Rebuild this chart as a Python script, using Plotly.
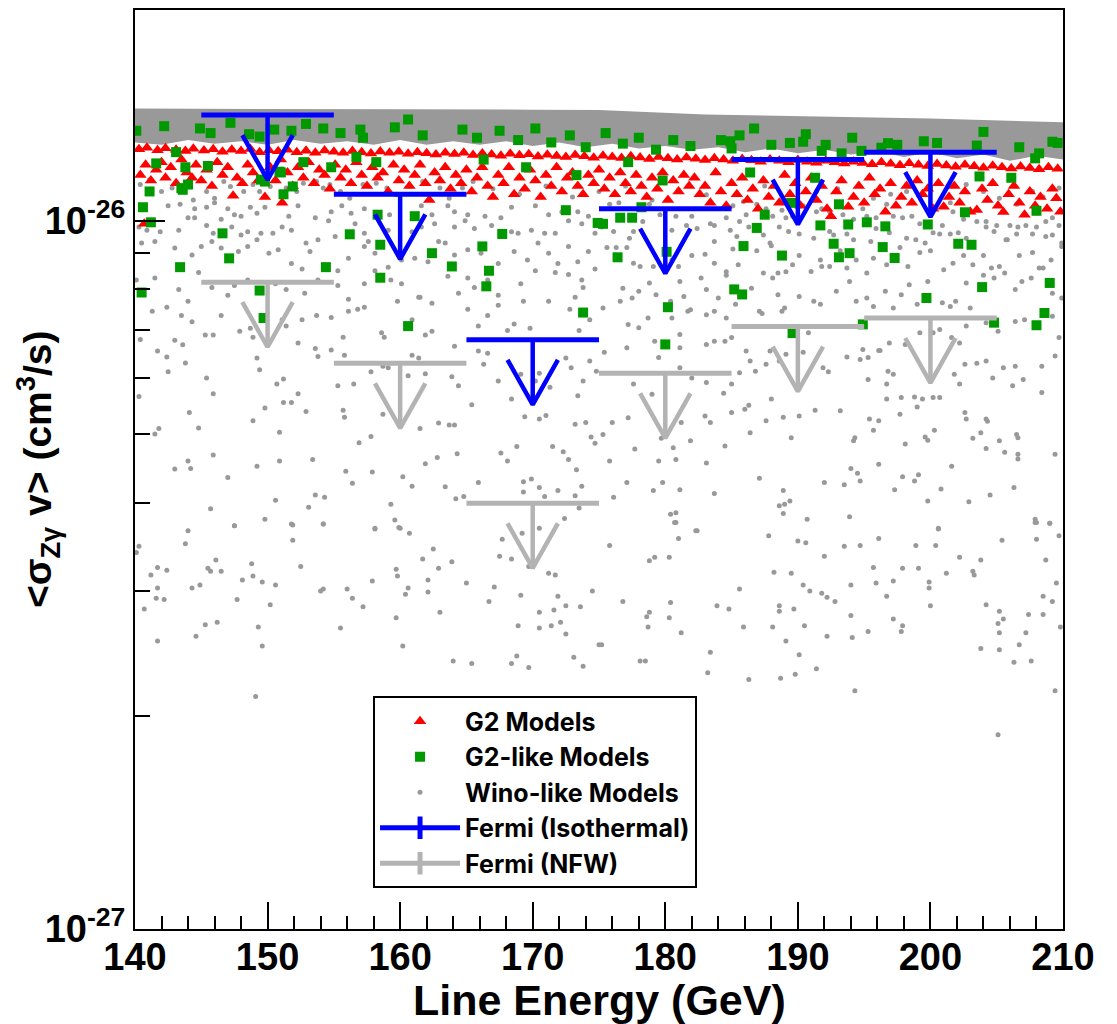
import plotly.graph_objects as go

UNIT = 1e-27  # all cross-section values below are in units of 1e-27 cm^3/s

# ---------------- Fermi-LAT upper limits (10 GeV bins) ----------------
fermi_centers = [150, 160, 170, 180, 190, 200]
fermi_halfwidth = 5
fermi_iso = [14.1, 10.9, 6.79, 10.4, 12.2, 12.5]
fermi_nfw = [8.19, 6.29, 3.99, 6.09, 7.09, 7.29]

# ---------------- dense Wino-like envelope (top edge / ragged bottom edge) ----------------
band_top_x = [140, 150, 160, 170, 175, 183, 190, 200, 210]
band_top_v = [14.4, 14.4, 14.37, 14.35, 14.33, 14.13, 14.05, 13.95, 13.77]
band_bot_x = [210, 208, 206, 204, 202, 200, 198, 196, 194, 192, 190, 188, 186, 184, 182, 180,
              178, 176, 174, 172, 170, 168, 166, 164, 162, 160, 158, 156, 154, 152, 150, 148,
              146, 144, 142, 140]
band_bot_v = [12.2, 12.35, 12.15, 12.4, 12.25, 12.5, 12.3, 12.55, 12.4, 12.6, 12.45, 12.65, 12.5,
              12.7, 12.6, 12.75, 12.65, 12.85, 12.7, 12.9, 12.75, 12.95, 12.8, 12.95, 12.8, 13.0,
              12.8, 12.95, 12.85, 13.0, 12.8, 12.95, 12.85, 13.0, 12.8, 12.9]

# ---------------- Wino-like models (x = line energy GeV, v) ----------------
wino_upper_left = [
    (140.4, 11.25), (141.1, 11.43), (142.0, 11.0), (142.8, 11.12), (143.6, 11.0), (144.4, 10.7),
    (145.4, 11.0), (146.0, 10.76), (146.7, 11.36), (147.2, 11.18), (148.2, 11.0), (148.9, 11.25),
    (149.4, 11.0), (150.2, 11.18), (151.4, 11.12), (152.2, 11.0), (152.7, 11.3), (153.7, 11.36),
    (154.2, 11.12), (154.7, 11.25), (155.5, 11.0), (156.2, 10.76), (157.2, 11.25), (158.2, 11.3),
    (159.0, 11.12), (159.7, 10.88), (160.7, 11.18), (161.7, 11.36), (163.0, 11.12), (163.7, 10.76),
    (164.7, 11.12), (165.5, 11.36),
    (142.5, 10.5), (143.4, 10.55), (144.5, 10.4), (145.4, 10.45), (146.0, 10.6), (147.0, 10.4),
    (147.5, 10.2), (148.0, 10.15), (148.7, 10.45), (149.2, 10.25), (149.8, 10.45), (151.6, 10.15),
    (152.3, 10.5), (153.6, 10.1), (154.8, 10.3), (155.6, 10.5), (156.3, 10.25), (157.3, 10.4),
    (159.2, 10.2), (161.6, 10.5), (162.4, 10.2), (163.6, 10.5), (164.1, 10.3), (165.1, 10.2),
    (166.4, 10.15), (167.6, 10.1), (168.4, 10.45), (170.2, 10.5), (171.2, 10.2), (172.2, 10.3),
    (173.4, 10.3), (174.2, 10.15),
    (140.3, 9.8), (140.9, 9.7), (141.9, 9.65), (143.3, 9.7), (144.0, 10.1), (144.5, 10.1),
    (145.4, 9.85), (145.9, 9.6), (146.5, 10.05), (147.3, 9.8), (148.0, 9.55), (148.5, 9.65),
    (149.5, 9.6), (150.4, 9.6), (151.1, 9.8), (151.8, 9.7), (152.9, 9.3), (153.8, 9.4),
    (154.6, 10.0), (155.1, 9.5), (156.6, 9.9), (157.3, 9.6), (157.6, 9.35), (159.1, 9.7),
    (160.9, 9.65), (161.6, 9.8), (162.6, 9.9), (162.9, 9.35), (164.1, 9.8), (164.9, 10.0),
    (165.6, 9.75), (166.9, 9.85), (168.4, 9.65), (168.9, 9.6), (169.9, 9.7), (170.9, 9.6),
    (171.7, 9.6), (172.7, 10.0), (173.7, 9.9), (174.7, 9.6),
    (140.5, 9.3), (141.5, 9.35), (143.0, 9.15), (144.3, 8.95), (145.0, 9.2), (145.8, 9.35),
    (146.5, 9.15), (147.8, 9.05), (148.5, 9.2), (149.2, 9.4), (150.1, 9.0), (150.8, 9.1),
    (151.8, 8.7), (152.6, 8.55), (153.2, 9.05), (155.3, 8.5), (156.1, 8.85), (157.3, 9.2),
    (158.1, 9.0), (159.1, 8.6), (160.1, 8.8), (161.1, 8.85), (162.1, 8.75), (163.4, 9.3),
    (164.1, 8.95), (165.1, 9.1), (166.1, 9.0), (167.4, 8.7), (168.6, 9.05), (169.6, 8.8),
    (170.4, 9.3), (171.2, 9.0), (171.9, 8.7), (172.7, 9.2), (173.4, 8.75), (174.2, 9.05),
]

wino_mid_left = [
    (140.1, 8.25), (141.5, 8.3), (143.3, 8.0), (144.0, 7.7), (144.8, 8.45), (145.8, 8.05),
    (147.0, 7.85), (147.5, 8.1), (148.5, 8.25), (150.6, 8.15), (151.4, 8.0), (152.8, 7.9),
    (153.8, 8.25), (155.3, 8.1), (156.1, 7.75), (157.3, 8.15), (158.1, 8.5), (159.3, 8.25),
    (160.1, 8.15), (161.4, 7.8), (162.4, 7.65), (163.6, 8.35), (164.4, 7.9), (165.1, 8.3),
    (165.6, 8.05), (166.6, 8.25), (167.4, 7.85), (169.1, 8.15), (170.2, 8.5), (171.7, 8.45),
    (172.7, 8.4), (173.7, 8.25), (174.7, 8.55), (173.2, 7.8), (173.8, 8.05),
    (141.3, 7.45), (142.4, 7.55), (143.5, 7.35), (144.3, 7.2), (145.3, 6.9), (145.9, 6.9),
    (146.5, 7.35), (147.9, 6.98), (148.7, 7.05), (148.9, 6.85), (151.1, 7.25), (151.4, 7.1),
    (152.6, 7.25), (153.7, 7.35), (154.8, 7.3), (155.7, 6.85), (156.1, 7.45), (156.8, 7.5),
    (157.3, 7.55), (158.6, 6.95), (158.8, 6.85), (159.8, 7.7), (160.9, 7.25), (161.5, 7.8),
    (161.9, 6.9), (162.4, 6.98), (164.1, 6.65), (165.1, 7.5), (165.9, 7.1), (166.6, 7.35),
    (167.4, 7.6), (168.1, 7.0), (168.6, 7.15), (169.3, 7.7), (169.8, 7.05), (171.2, 7.7),
    (172.8, 7.5), (174.3, 7.25), (173.5, 7.0),
    (140.4, 6.8), (141.7, 6.55), (142.4, 6.42), (143.0, 6.78), (143.6, 6.68), (143.8, 6.3),
    (142.5, 6.12), (145.4, 6.0), (145.9, 5.7), (149.2, 6.4), (149.4, 6.16), (150.7, 5.88),
    (151.2, 5.98), (152.3, 6.72), (153.6, 6.6), (153.8, 6.43), (154.8, 6.57), (155.3, 5.85),
    (155.8, 6.46), (156.5, 5.88), (157.8, 6.12), (158.7, 6.23), (159.1, 6.2), (160.6, 6.04),
    (160.9, 6.46), (161.4, 6.4), (161.9, 6.08), (163.9, 6.02), (164.4, 5.85), (165.4, 5.5),
    (165.9, 6.55), (166.3, 6.27), (166.6, 6.5), (167.4, 5.94), (168.4, 5.6), (169.1, 6.07),
    (170.2, 5.94), (170.5, 6.09), (171.3, 5.82), (172.5, 6.4), (172.9, 6.2), (173.8, 5.94),
    (174.3, 6.34), (174.8, 6.13), (173.4, 5.66),
    (140.3, 5.65), (144.1, 5.36), (144.8, 5.1), (148.9, 5.22), (149.8, 5.44), (150.9, 5.03),
    (151.2, 5.54), (151.8, 5.54), (152.3, 5.7), (152.9, 5.38), (155.7, 5.4), (155.8, 5.28),
    (156.9, 4.86), (157.8, 4.96), (158.7, 5.33), (161.5, 5.09), (162.9, 5.18), (163.7, 5.15),
    (164.1, 5.15), (169.4, 5.29), (170.5, 5.25), (171.0, 5.31), (173.2, 5.16), (174.0, 5.19),
    (141.5, 5.0), (141.8, 5.09),
    (143.0, 4.46), (144.0, 4.58), (144.2, 4.47), (145.9, 4.67), (147.0, 4.34), (149.2, 4.5),
    (150.9, 4.58), (153.4, 4.6), (155.9, 4.43), (156.4, 4.26), (157.9, 4.42), (160.2, 4.35),
    (160.9, 4.22), (161.9, 4.54), (162.8, 4.63), (163.4, 4.21), (164.3, 4.69), (164.8, 4.08),
    (165.9, 4.27), (167.6, 4.7), (168.1, 4.58), (168.8, 4.8), (169.3, 4.28), (169.9, 4.32),
    (169.3, 4.14), (170.5, 4.2), (170.9, 4.08), (171.5, 4.8), (171.9, 4.16), (172.3, 4.72),
    (172.7, 4.6), (173.3, 4.45), (173.7, 4.22), (173.2, 4.09), (173.5, 3.93), (145.7, 3.92),
    (147.5, 3.71), (149.8, 3.79), (150.6, 4.03), (151.8, 3.73), (153.1, 3.94), (153.6, 4.1),
    (154.3, 4.07), (154.2, 3.73), (158.1, 3.67), (159.3, 3.98), (159.6, 3.78), (160.0, 3.68),
    (164.2, 4.05), (172.4, 3.8), (174.4, 4.95), (174.7, 4.85),
]

wino_upper_right = [
    (167.0, 11.1), (169.0, 10.9), (171.0, 11.2), (173.0, 10.8), (175.0, 11.0), (177.0, 11.2),
    (179.0, 10.7), (181.0, 11.05), (183.1, 10.88), (185.9, 10.65), (187.5, 11.2), (189.0, 10.7),
    (191.4, 11.0), (193.0, 11.1), (195.7, 10.76), (197.0, 10.9), (198.2, 11.0), (200.0, 11.15),
    (201.5, 10.6), (202.7, 11.25), (204.0, 11.0), (205.2, 10.76), (206.5, 10.55), (207.7, 11.0),
    (208.5, 10.8), (209.7, 11.12),
    (175.8, 10.55), (176.5, 10.6), (178.8, 10.55), (179.6, 10.2), (180.8, 10.15), (182.0, 10.15),
    (183.4, 9.9), (183.7, 9.85), (184.6, 10.1), (185.1, 10.5), (185.6, 9.98), (186.1, 10.2),
    (186.9, 10.55), (187.6, 10.4), (188.1, 10.15), (188.8, 10.35), (189.1, 10.1), (189.6, 10.15),
    (190.4, 10.5), (191.4, 10.3), (191.8, 10.4), (192.4, 10.3), (193.4, 10.2), (194.2, 10.05),
    (194.9, 10.4), (195.2, 10.15), (195.9, 10.1), (196.7, 10.55), (197.2, 10.15), (197.9, 10.1),
    (198.6, 10.15), (199.2, 9.9), (200.9, 9.85), (201.7, 10.3), (202.5, 10.05), (203.5, 9.98),
    (204.2, 9.98), (205.0, 9.85), (206.0, 9.85), (206.6, 9.8), (207.2, 9.85), (208.0, 9.8),
    (208.7, 9.98), (209.2, 10.1), (209.7, 9.85),
    (175.2, 9.8), (176.1, 9.66), (177.3, 9.45), (177.6, 9.66), (178.3, 9.98), (180.5, 9.7),
    (181.6, 9.85), (182.4, 9.75), (183.7, 9.35), (184.9, 9.7), (185.4, 9.5), (186.3, 9.8),
    (187.4, 9.55), (187.9, 9.3), (188.6, 9.8), (189.3, 9.66), (190.1, 9.58), (191.2, 9.45),
    (192.4, 9.66), (192.7, 9.55), (193.7, 9.58), (194.2, 9.4), (195.5, 9.35), (195.9, 9.75),
    (196.9, 9.62), (198.2, 9.45), (198.9, 9.4), (199.6, 9.3), (200.2, 9.62), (200.7, 9.58),
    (201.5, 9.58), (202.1, 9.62), (202.7, 9.45), (204.2, 9.8), (204.8, 9.66), (205.7, 9.4),
    (206.5, 9.58), (207.7, 9.58), (208.7, 9.5), (209.2, 9.55), (209.9, 9.3),
    (175.6, 9.17), (176.3, 9.17), (177.1, 9.17), (177.6, 8.71), (178.1, 8.62), (179.1, 8.62),
    (180.5, 8.8), (181.0, 8.62), (182.0, 8.93), (183.0, 8.97), (183.7, 8.71), (184.6, 8.47),
    (185.1, 9.12), (185.5, 8.67), (186.9, 9.07), (187.4, 8.44), (188.0, 9.22), (188.5, 8.44),
    (189.1, 8.47), (189.6, 8.67), (190.1, 8.93), (191.0, 8.48), (191.7, 8.8), (191.8, 8.62),
    (192.4, 8.62), (193.2, 9.07), (193.7, 8.58), (194.4, 8.8), (195.2, 8.44), (195.7, 8.85),
    (196.7, 8.67), (197.7, 9.17), (198.3, 8.62), (199.2, 9.02), (200.0, 9.07), (201.0, 8.53),
    (201.7, 8.71), (202.5, 8.93), (203.2, 8.67), (204.0, 8.93), (204.6, 8.58), (205.2, 8.62),
    (205.8, 9.4), (206.7, 8.93), (207.7, 9.02), (208.5, 8.58), (209.1, 8.8), (209.9, 9.2),
]

wino_mid_right = [
    (176.8, 8.03), (177.5, 7.78), (178.0, 7.95), (178.8, 8.17), (179.3, 7.86), (180.4, 7.7),
    (181.1, 8.21), (181.4, 7.82), (181.7, 7.45), (182.7, 8.3), (183.1, 8.0), (184.0, 7.78),
    (184.6, 8.38), (185.3, 7.62), (186.5, 8.03), (187.1, 7.45), (188.1, 8.3), (188.5, 7.86),
    (189.0, 7.53), (190.1, 7.82), (191.2, 7.7), (191.7, 7.62), (192.9, 7.95), (193.9, 8.21),
    (194.4, 7.7), (195.2, 7.78), (195.7, 7.57), (196.6, 7.95), (197.2, 7.53), (197.8, 7.86),
    (198.4, 8.12), (199.0, 7.62), (199.8, 8.21), (200.9, 7.66), (201.5, 7.57), (201.9, 7.7),
    (202.7, 8.17), (203.0, 7.53), (204.0, 8.38), (204.8, 8.3), (205.6, 8.44), (206.4, 8.0),
    (206.9, 8.21), (207.6, 8.3), (208.2, 8.58), (209.2, 7.9), (209.9, 7.78),
    (175.3, 7.53), (176.6, 7.7), (177.2, 7.14), (178.0, 7.06), (178.7, 7.29), (179.2, 6.76),
    (180.5, 7.29), (181.1, 6.91), (181.9, 7.49), (183.1, 7.37), (183.7, 7.45), (184.5, 6.76),
    (184.6, 7.29), (185.0, 6.84), (186.1, 6.55), (187.3, 7.4), (187.9, 6.55), (188.8, 7.45),
    (189.6, 6.98), (190.8, 6.95), (194.9, 6.58), (196.1, 6.56), (196.9, 6.72), (198.1, 6.69),
    (199.2, 6.95), (200.2, 6.95), (200.7, 7.02), (201.6, 6.84), (202.2, 6.72), (202.7, 7.1),
    (204.2, 7.18), (205.1, 6.98), (206.4, 7.21), (207.1, 7.25), (209.2, 7.33), (209.7, 6.84),
    (175.4, 6.52), (177.1, 6.62), (179.5, 6.41), (181.1, 6.62), (183.1, 6.69), (183.7, 6.76),
    (177.6, 5.88), (179.0, 5.69), (181.1, 6.2), (182.0, 6.0), (183.1, 5.91), (184.4, 5.71),
    (185.0, 5.88), (185.6, 6.1), (186.4, 6.34), (186.8, 6.13), (187.6, 6.27), (188.0, 5.6),
    (188.6, 6.34), (189.1, 6.48), (190.4, 6.52), (191.9, 6.2), (192.3, 6.12), (193.7, 6.42),
    (194.7, 6.37), (195.3, 6.41), (196.2, 6.56), (196.8, 6.13), (197.2, 6.07), (197.8, 5.63),
    (198.8, 5.64), (199.4, 5.6), (200.2, 5.63), (200.7, 5.63), (201.8, 6.07), (202.2, 5.88),
    (202.6, 6.27), (203.5, 6.29), (204.2, 6.34), (204.7, 6.0), (205.5, 6.2), (206.4, 6.23),
    (207.0, 5.97), (208.4, 6.23), (209.4, 6.44), (206.2, 5.85), (195.3, 5.97), (196.7, 5.88),
    (196.7, 5.6),
    (175.3, 4.99), (176.0, 5.19), (177.2, 5.27), (177.7, 4.76), (179.7, 4.93), (180.6, 4.78),
    (181.2, 5.19), (181.9, 4.89), (183.0, 5.3), (183.4, 5.19), (184.5, 4.81), (185.0, 5.36),
    (186.0, 5.42), (186.3, 5.49), (186.4, 5.02), (187.6, 5.22), (188.9, 5.28), (189.5, 4.94),
    (190.1, 5.3), (191.3, 5.4), (193.2, 5.39), (194.3, 4.94), (194.2, 4.89), (195.4, 5.25),
    (195.7, 5.06), (196.1, 5.22), (197.7, 5.33), (198.1, 4.84), (199.0, 5.46), (199.6, 4.95),
    (199.8, 4.9), (200.3, 5.06), (202.7, 5.25), (202.6, 5.36), (203.2, 4.93), (203.8, 5.02),
    (204.2, 5.25), (204.3, 5.21), (205.2, 4.89), (205.6, 4.71), (206.5, 4.99), (206.6, 4.94),
    (208.4, 5.72),
    (175.8, 4.58), (177.1, 4.27), (179.1, 4.16), (179.5, 4.58), (179.8, 4.27), (180.8, 4.6),
    (181.1, 4.17), (183.1, 4.55), (183.7, 4.12), (176.1, 4.07), (180.4, 3.85), (180.8, 3.87),
    (180.7, 3.75), (182.4, 3.65), (187.1, 4.33), (188.9, 4.16), (188.6, 3.96), (189.0, 3.98),
    (189.4, 4.02), (188.9, 3.86), (190.7, 3.79), (192.0, 4.27), (193.5, 4.24), (193.9, 3.82),
    (194.0, 4.47), (194.5, 4.4), (194.7, 4.29), (196.1, 4.53), (197.3, 4.17), (197.9, 4.35),
    (198.8, 4.29), (199.1, 4.38), (199.8, 4.02), (200.8, 4.18), (201.6, 4.5), (202.9, 4.01),
    (204.2, 4.77), (204.5, 4.1), (206.3, 4.2), (206.6, 4.68), (206.6, 4.61), (207.9, 3.79),
    (208.0, 3.75), (209.0, 3.74), (209.4, 4.68), (200.6, 3.67),
]

wino_low_left = [
    (140.3, 3.47), (140.1, 3.4), (143.8, 3.5), (144.0, 3.65), (147.5, 3.71), (151.9, 3.72),
    (151.9, 3.54), (154.2, 3.73), (158.1, 3.68), (159.9, 3.69), (160.7, 3.62), (141.2, 3.16),
    (141.7, 3.24), (142.4, 3.21), (144.3, 3.03), (144.9, 3.06), (145.5, 3.23), (145.7, 3.2),
    (146.1, 3.32), (146.5, 3.2), (148.1, 3.11), (148.8, 3.28), (148.9, 3.15), (149.6, 3.09),
    (150.6, 3.06), (152.5, 3.25), (154.0, 3.0), (154.2, 3.02), (156.0, 3.02), (156.4, 2.93),
    (157.2, 2.85), (157.9, 3.1), (159.7, 3.22), (159.8, 3.15), (160.6, 3.03), (160.4, 2.97),
    (161.7, 3.33), (162.1, 3.11), (162.1, 2.99), (162.5, 3.44), (162.9, 3.23), (163.9, 3.3),
    (165.0, 3.08), (167.1, 3.04), (166.7, 2.9), (167.5, 3.36), (167.7, 3.55), (168.4, 3.33),
    (169.2, 3.62), (170.5, 3.68), (169.1, 2.96), (170.5, 2.8), (171.6, 2.82), (171.9, 2.95),
    (172.5, 2.86), (173.6, 2.85), (174.5, 3.0), (171.2, 3.18), (171.7, 3.16), (169.7, 3.25),
    (140.7, 2.83), (141.6, 2.93), (142.2, 2.92), (141.7, 3.03), (145.3, 2.69), (146.2, 2.71),
    (144.6, 2.59), (147.7, 2.92), (149.3, 2.67), (149.6, 2.51), (150.2, 2.87), (141.7, 2.55),
    (155.5, 2.66), (159.7, 2.75), (160.2, 2.51), (163.0, 2.8), (168.9, 2.68), (170.5, 2.66),
    (171.4, 2.68), (172.1, 2.71), (172.5, 2.61), (164.0, 2.39), (165.4, 2.37), (168.4, 2.37),
    (168.8, 2.43), (169.7, 2.34), (173.1, 2.42), (173.8, 2.35), (175.0, 2.52), (149.1, 2.13),
]

wino_low_right = [
    (175.8, 3.48), (178.8, 3.31), (179.2, 3.35), (180.3, 3.35), (180.8, 3.75), (181.0, 3.56),
    (182.3, 3.65), (187.8, 3.59), (190.0, 3.53), (190.6, 3.51), (192.0, 3.36), (193.5, 3.47),
    (194.7, 3.48), (196.1, 3.56), (198.9, 3.48), (200.4, 3.48), (200.6, 3.68), (202.2, 3.35),
    (203.8, 3.32), (205.4, 3.54), (208.0, 3.55), (207.9, 3.75), (209.0, 3.74), (209.7, 3.59),
    (208.7, 3.32), (176.8, 2.9), (178.6, 2.76), (178.8, 2.8), (178.7, 2.67), (180.3, 2.75),
    (180.4, 2.89), (181.2, 2.62), (183.9, 2.86), (184.8, 2.83), (185.6, 3.02), (185.9, 2.67),
    (188.1, 2.67), (188.2, 3.19), (188.6, 2.86), (188.6, 2.81), (189.5, 3.18), (189.7, 2.83),
    (190.4, 3.06), (190.9, 3.0), (190.5, 2.68), (191.8, 2.98), (192.2, 2.94), (192.8, 2.9),
    (194.0, 3.06), (194.0, 2.77), (195.7, 3.24), (195.9, 3.08), (196.7, 2.95), (197.2, 3.1),
    (197.2, 2.74), (197.8, 2.63), (197.9, 2.68), (197.9, 3.23), (199.1, 3.23), (199.9, 3.09),
    (199.9, 3.03), (200.0, 2.86), (201.2, 3.18), (203.2, 3.2), (203.3, 3.16), (204.2, 2.87),
    (205.2, 2.81), (205.5, 2.74), (205.1, 2.7), (205.2, 2.62), (207.2, 2.62), (207.4, 2.78),
    (208.5, 2.78), (208.5, 2.95), (209.2, 2.9), (209.5, 3.08), (209.8, 2.67),
    (175.2, 2.52), (178.1, 2.39), (178.5, 2.39), (183.4, 2.46), (183.2, 2.3), (186.3, 2.25),
    (188.7, 2.26), (189.1, 2.55), (189.8, 2.29), (190.1, 2.44), (191.4, 2.33), (192.2, 2.59),
    (194.1, 2.58), (195.3, 2.63), (203.8, 2.49), (205.2, 2.48), (206.7, 2.52), (206.3, 2.38),
    (207.6, 2.39), (209.4, 2.17), (194.3, 2.17), (205.1, 1.88),
]

# ---------------- G2 models ----------------
g2_dense_x = [140.3, 140.9, 141.7, 142.3, 143.1, 143.8, 144.4, 145.2, 145.9, 146.6, 147.3, 148.0,
              148.7, 149.4, 150.1, 150.8, 151.5, 152.2, 152.9, 153.6, 154.3, 155.0, 155.7, 156.4,
              157.1, 157.8, 158.5, 159.2, 159.9, 160.6, 161.3, 162.0, 162.7, 163.4, 164.1, 164.8,
              165.5, 166.2, 166.9, 167.6, 168.3, 169.0, 169.7, 170.4, 171.1, 171.8, 172.5, 173.2,
              173.9, 174.6, 175.3, 176.0, 176.7, 177.4, 178.1, 178.8, 179.5, 180.2, 180.9, 181.6,
              182.3, 183.0, 183.7, 184.4, 185.1, 185.8, 186.5, 187.2, 187.9, 188.6, 189.3, 190.0,
              190.7, 191.4, 192.1, 192.8, 193.5, 194.2, 194.9, 195.6, 196.3, 197.0, 197.7, 198.4,
              199.1, 199.8, 200.5, 201.2, 201.9, 202.6, 203.3, 204.0, 204.7, 205.4, 206.1, 206.8,
              207.5, 208.2, 208.9, 209.6]
g2_dense_v = [12.62, 12.68, 12.58, 12.66, 12.6, 12.55, 12.64, 12.57, 12.62, 12.52, 12.6, 12.55,
              12.63, 12.5, 12.58, 12.54, 12.6, 12.5, 12.56, 12.48, 12.57, 12.52, 12.47, 12.55,
              12.5, 12.44, 12.53, 12.47, 12.52, 12.43, 12.5, 12.45, 12.4, 12.48, 12.42, 12.47,
              12.38, 12.44, 12.4, 12.35, 12.43, 12.37, 12.41, 12.32, 12.39, 12.34, 12.3, 12.38,
              12.33, 12.27, 12.35, 12.3, 12.26, 12.33, 12.28, 12.22, 12.3, 12.25, 12.2, 12.28,
              12.23, 12.18, 12.25, 12.2, 12.15, 12.22, 12.17, 12.12, 12.2, 12.15, 12.1, 12.18,
              12.12, 12.08, 12.15, 12.1, 12.05, 12.12, 12.07, 12.02, 12.1, 12.04, 11.98, 12.06,
              12.0, 11.95, 12.03, 11.97, 11.92, 12.0, 11.94, 11.88, 11.96, 11.9, 11.85, 11.93,
              11.87, 11.82, 11.9, 11.84]
g2_scatter = [
    (140.4, 11.6), (140.8, 12.0), (141.2, 11.4), (141.6, 11.8), (142.0, 12.1), (142.3, 11.5),
    (142.7, 11.9), (143.1, 11.3), (143.5, 12.2), (143.9, 11.7), (144.3, 11.5), (144.6, 12.0),
    (145.0, 11.4), (145.4, 11.8), (145.8, 11.2), (146.2, 12.1), (146.6, 11.6), (147.0, 11.9),
    (147.4, 10.85), (147.7, 11.5), (148.1, 11.3), (148.5, 12.0), (148.9, 11.7), (149.3, 11.4),
    (149.8, 10.8), (150.2, 11.9), (140.7, 9.9),
    (150.6, 11.4), (151.0, 12.2), (151.1, 10.6), (151.5, 11.7), (151.9, 11.2), (152.3, 11.9),
    (152.7, 11.5), (153.1, 12.1), (153.5, 11.3), (153.9, 11.8), (154.3, 11.6), (154.7, 11.1),
    (155.1, 12.0), (155.5, 11.5), (155.9, 11.8), (156.3, 11.3), (156.7, 12.1), (157.1, 11.6),
    (157.5, 11.2), (157.9, 11.9), (158.3, 11.5), (158.7, 11.7), (159.1, 11.0), (159.5, 12.0),
    (159.9, 11.4), (160.3, 11.8), (160.7, 11.2), (161.1, 11.6), (161.5, 12.0), (161.9, 11.3),
    (162.2, 10.7), (162.6, 11.7), (163.0, 11.4), (163.4, 11.9), (163.8, 11.1), (164.2, 11.6),
    (164.6, 11.3),
    (165.0, 11.8), (165.4, 11.0), (165.8, 11.5), (166.2, 11.9), (166.6, 11.2), (167.0, 10.8),
    (167.4, 11.6), (167.8, 11.3), (168.2, 11.9), (168.6, 10.9), (169.0, 11.5), (169.4, 11.1),
    (169.8, 11.8), (170.2, 11.4), (170.6, 10.8), (171.0, 11.6), (171.4, 11.2), (171.8, 11.9),
    (172.2, 11.0), (172.6, 11.5), (173.0, 11.7), (173.4, 11.2), (173.8, 10.9), (174.2, 11.6),
    (174.6, 11.3), (175.0, 11.8), (175.4, 11.1), (175.8, 11.5), (176.2, 10.9), (176.6, 11.7),
    (177.0, 11.3), (177.4, 11.0), (177.8, 11.6), (178.2, 11.2), (178.6, 10.8), (179.0, 11.5),
    (179.4, 11.1), (179.8, 11.7), (180.2, 10.7), (180.6, 11.4), (181.0, 11.0), (181.4, 11.6),
    (181.8, 11.2),
    (182.2, 11.5), (182.6, 10.9), (183.0, 11.2), (183.4, 10.6), (183.8, 11.7), (184.2, 11.0),
    (184.6, 10.5), (185.0, 11.3), (185.4, 10.9), (185.8, 11.5), (186.2, 10.7), (186.6, 11.1),
    (187.0, 10.4), (187.4, 11.4), (187.8, 10.8), (188.2, 11.2), (188.6, 10.6), (189.0, 11.6),
    (189.4, 10.9), (189.8, 11.3), (190.2, 10.5), (190.6, 11.0), (191.0, 11.5), (191.4, 10.7),
    (191.8, 11.2), (192.2, 10.4), (192.5, 10.15), (192.9, 11.0), (193.3, 11.4), (193.8, 10.47),
    (194.2, 10.8), (194.6, 11.2), (195.0, 10.6), (195.4, 11.5), (195.8, 10.9), (196.2, 11.1),
    (196.6, 10.3), (197.0, 11.3), (197.4, 10.5), (197.8, 10.8), (198.2, 11.2), (198.6, 10.6),
    (199.0, 11.4), (199.4, 10.9), (199.8, 11.1), (200.2, 10.4), (200.6, 11.3), (201.0, 10.47),
    (201.4, 10.8), (201.8, 11.2), (202.2, 10.6), (202.6, 11.0), (203.0, 10.3), (203.5, 10.36),
    (203.9, 11.1), (204.3, 10.7), (204.7, 11.3), (205.1, 10.5), (205.5, 10.29), (205.9, 10.9),
    (206.3, 11.2), (206.7, 10.6), (207.1, 10.2), (207.5, 11.0), (207.9, 10.5), (208.3, 10.8),
    (208.8, 10.4), (209.2, 11.1), (209.5, 10.76), (209.8, 10.3),
]

# ---------------- G2-like models ----------------
g2like = [
    (140.1, 13.4), (142.2, 13.6), (144.9, 13.5), (145.7, 13.3), (147.2, 13.75), (148.6, 13.25),
    (149.4, 13.15), (150.5, 13.45), (151.8, 13.4), (141.1, 11.0), (140.6, 10.45), (141.2, 9.95),
    (140.5, 7.92), (143.4, 8.6), (147.1, 8.85), (146.6, 9.6), (149.4, 7.97), (141.6, 12.05),
    (143.8, 11.9), (145.5, 11.95), (143.6, 11.06), (144.0, 11.25), (151.2, 10.9), (151.9, 11.18),
    (151.0, 11.7), (149.8, 11.36),
    (152.9, 13.7), (154.2, 13.5), (155.5, 13.3), (157.0, 13.45), (157.2, 13.1), (159.6, 13.55),
    (160.6, 13.9), (161.7, 13.2), (164.7, 13.45), (165.8, 13.1), (143.1, 12.5), (143.5, 11.12),
    (149.5, 11.43), (150.9, 11.73), (152.7, 12.1), (154.8, 11.9), (156.7, 12.3), (158.2, 12.1),
    (158.3, 10.2), (161.1, 10.15), (162.4, 9.0), (163.9, 8.62), (158.5, 9.25), (156.2, 9.57),
    (154.4, 8.6),
    (149.7, 7.29), (158.5, 8.31), (160.6, 7.1), (166.2, 9.2), (166.7, 8.5), (166.5, 8.08),
    (167.7, 9.58), (172.5, 10.35), (173.8, 7.42), (174.9, 9.93),
    (178.2, 10.45), (176.6, 10.1), (177.5, 10.1), (175.3, 9.9), (176.4, 8.88), (180.1, 9.04),
    (180.2, 7.55), (180.0, 6.69), (185.9, 9.21), (187.5, 10.2), (186.9, 9.77), (188.8, 8.93),
    (185.2, 8.0), (185.8, 7.87), (189.6, 6.94), (191.7, 9.85), (193.1, 10.55), (193.8, 9.88),
    (195.2, 9.95), (196.6, 9.82), (192.7, 9.28), (193.1, 8.88), (193.9, 9.0), (196.4, 9.18),
    (197.3, 8.86), (194.9, 7.14), (199.8, 9.88), (199.7, 7.78), (202.6, 10.28), (202.1, 9.28),
    (203.1, 9.25), (203.9, 8.06), (204.8, 7.18), (208.0, 10.33), (209.0, 8.17), (208.6, 7.41),
    (208.0, 7.12),
    (186.7, 13.5), (184.2, 13.0), (184.9, 12.95), (185.6, 13.2), (185.0, 12.65), (188.0, 12.8),
    (189.4, 12.88), (190.4, 12.93), (190.6, 13.25), (191.8, 12.55), (192.1, 12.8), (193.3, 12.45),
    (194.1, 13.1), (194.8, 12.55), (196.3, 12.68), (196.8, 12.87), (197.5, 12.8), (199.5, 12.95),
    (200.5, 12.88), (203.5, 12.77), (204.0, 13.35), (206.7, 12.7), (208.2, 12.45), (207.9, 12.25),
    (209.2, 12.93), (209.6, 12.88), (186.4, 11.7), (189.5, 10.6), (191.3, 11.5), (203.7, 11.55),
    (206.1, 11.5),
    (167.5, 13.4), (168.9, 13.0), (170.2, 13.5), (171.4, 12.9), (172.8, 13.2), (174.0, 12.7),
    (175.5, 13.3), (176.8, 12.85), (178.0, 13.1), (179.3, 12.6), (180.6, 13.0), (181.9, 12.75),
    (166.3, 12.2), (169.5, 11.9), (173.3, 11.6), (177.2, 12.1), (179.8, 11.4),
]

# ---------------- styling constants ----------------
FONT = "Liberation Sans, Arial, Helvetica, sans-serif"
LEGEND_FONT = "Inter, Liberation Sans, Arial, sans-serif"
GREY_PT = "#999999"
GREY_NFW = "#b3b3b3"
BLUE = "#0000ff"
RED = "#ff0000"
GREEN = "#009900"
ARROW_TIP = 0.810      # arrow length (fraction of limit, log scale)
HEAD_TOP = 0.937       # where the V head starts
HEAD_HALF = 1.9        # half width of the V head, GeV


def xs(pts):
    return [p[0] for p in pts]


def ys(pts):
    return [p[1] * UNIT for p in pts]


fig = go.Figure()

# dense envelope of Wino-like models
fig.add_trace(go.Scatter(
    x=band_top_x + band_bot_x,
    y=[v * UNIT for v in band_top_v + band_bot_v],
    mode="lines", fill="toself", fillcolor=GREY_PT, line=dict(width=0, color=GREY_PT),
    hoverinfo="skip", showlegend=False))

wino = wino_upper_left + wino_mid_left + wino_upper_right + wino_mid_right + wino_low_left + wino_low_right
fig.add_trace(go.Scatter(
    x=xs(wino), y=ys(wino), mode="markers", name="Wino-like Models",
    marker=dict(symbol="circle", size=5, color=GREY_PT, line=dict(width=0)),
    legendrank=3))

fig.add_trace(go.Scatter(
    x=g2_dense_x + xs(g2_scatter), y=[v * UNIT for v in g2_dense_v] + ys(g2_scatter),
    mode="markers", name="G2 Models",
    marker=dict(symbol="triangle-up", size=11, color=RED, line=dict(width=0)),
    legendrank=1))

fig.add_trace(go.Scatter(
    x=xs(g2like), y=ys(g2like), mode="markers", name="G2-like Models",
    marker=dict(symbol="square", size=10, color=GREEN, line=dict(width=0)),
    legendrank=2))


def limit_traces(values, color, name, rank):
    bx, by, ax, ay = [], [], [], []
    for c, v in zip(fermi_centers, values):
        bx += [c - fermi_halfwidth, c + fermi_halfwidth, None]
        by += [v * UNIT, v * UNIT, None]
        ax += [c, c, None, c - HEAD_HALF, c, c + HEAD_HALF, None]
        ay += [v * UNIT, v * ARROW_TIP * UNIT, None,
               v * HEAD_TOP * UNIT, v * ARROW_TIP * UNIT, v * HEAD_TOP * UNIT, None]
    fig.add_trace(go.Scatter(x=ax, y=ay, mode="lines", line=dict(color=color, width=4.5),
                             hoverinfo="skip", showlegend=False))
    fig.add_trace(go.Scatter(x=bx, y=by, mode="lines", line=dict(color=color, width=5),
                             hoverinfo="skip", showlegend=False))
    # legend entry (line with vertical error tick)
    fig.add_trace(go.Scatter(x=[None], y=[None], mode="lines+markers", name=name,
                             line=dict(color=color, width=5),
                             marker=dict(symbol="line-ns", size=18,
                                         line=dict(color=color, width=5)),
                             legendrank=rank))


limit_traces(fermi_iso, BLUE, "Fermi (Isothermal)", 4)
limit_traces(fermi_nfw, GREY_NFW, "Fermi (NFW)", 5)

minor_y = [k * UNIT for k in range(2, 10)] + [20 * UNIT]

fig.update_layout(
    width=1109, height=1016,
    margin=dict(l=127, r=54, t=0, b=95),
    paper_bgcolor="white", plot_bgcolor="white",
    font=dict(family=FONT, color="black"),
    showlegend=True,
    legend=dict(
        x=0.2565, y=0.253, xanchor="left", yanchor="top",
        bgcolor="white", bordercolor="black", borderwidth=2,
        font=dict(family=LEGEND_FONT, size=25, color="black", weight="bold"),
        itemwidth=80, tracegroupgap=0,
    ),
    xaxis=dict(
        range=[140, 210], tickvals=[140, 150, 160, 170, 180, 190, 200, 210],
        ticks="inside", ticklen=27, tickwidth=2, tickcolor="black",
        minor=dict(ticks="inside", ticklen=13, tickwidth=1.5, tickcolor="black",
                   tick0=140, dtick=2),
        showline=True, linewidth=2, linecolor="black", mirror=True,
        showgrid=False, zeroline=False, ticklabelstandoff=-7,
        tickfont=dict(family=FONT, size=38, color="black", weight="bold"),
    ),
    yaxis=dict(
        type="log", range=[-27, -25.7024],
        tickvals=[1e-27, 1e-26], ticktext=["10<sup>-27</sup>", "10<sup>-26</sup>"],
        ticks="inside", ticklen=30, tickwidth=2, tickcolor="black",
        minor=dict(ticks="inside", ticklen=15, tickwidth=1.5, tickcolor="black",
                   tickvals=minor_y),
        showline=True, linewidth=2, linecolor="black", mirror=True,
        showgrid=False, zeroline=False,
        tickfont=dict(family=FONT, size=38, color="black", weight="bold"),
    ),
    annotations=[
        dict(text="Line Energy (GeV)", xref="paper", yref="paper", x=0.5, y=-0.077,
             xanchor="center", yanchor="middle", showarrow=False,
             font=dict(family=FONT, size=43, color="black", weight="bold")),
        dict(text="&lt;σ<sub>Zγ</sub> v&gt; (cm<sup>3</sup>/s)", xref="paper", yref="paper",
             x=-0.105, y=0.5, xanchor="center", yanchor="middle", textangle=-90,
             showarrow=False,
             font=dict(family=FONT, size=39, color="black", weight="bold")),
    ],
)

fig.write_html("out.html")
